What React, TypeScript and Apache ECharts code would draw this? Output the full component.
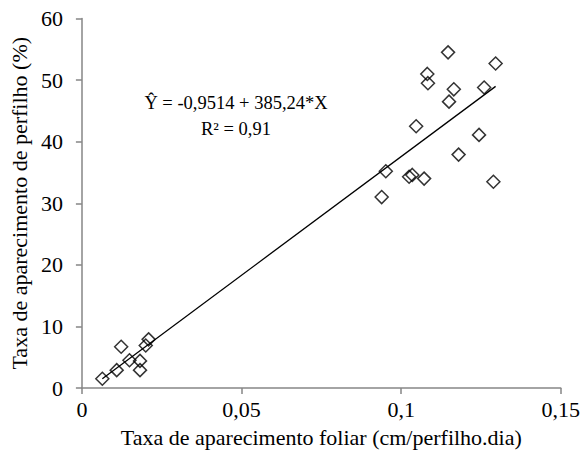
import React, { useEffect, useRef } from "react";
import * as echarts from "echarts";

const xValues = [
  0.0064, 0.0109, 0.0123, 0.0149, 0.0182, 0.0182, 0.02, 0.0209,
  0.0939, 0.0952, 0.1025, 0.1035, 0.1047, 0.1072, 0.1082, 0.1084,
  0.1147, 0.115, 0.1165, 0.118, 0.1244, 0.126, 0.1289, 0.1296,
];
const yValues = [
  1.5, 2.9, 6.7, 4.5, 2.9, 4.4, 6.9, 7.9,
  31.0, 35.2, 34.3, 34.6, 42.5, 34.0, 51.0, 49.5,
  54.5, 46.5, 48.5, 37.9, 41.1, 48.8, 33.5, 52.7,
];
const intercept = -0.9514;
const slope = 385.24;
const xTickLabels = ["0", "0,05", "0,1", "0,15"];
const yTickLabels = ["0", "10", "20", "30", "40", "50", "60"];
const equationText = "Ŷ = -0,9514 + 385,24*X";
const r2Text = "R² = 0,91";
const xTitle = "Taxa de aparecimento foliar (cm/perfilho.dia)";
const yTitle = "Taxa de aparecimento de perfilho (%)";

export default function App() {
  const ref = useRef<HTMLDivElement>(null);
  useEffect(() => {
    document.body.style.margin = "0";
    if (!ref.current) return;
    const chart = echarts.init(ref.current, null, { renderer: "svg" });
    const font = "'Liberation Serif', 'Times New Roman', serif";
    const pts = xValues.map((x, i) => [x, yValues[i]]);
    const xMin = Math.min(...xValues);
    const xMax = Math.max(...xValues);
    const linePts = [
      [xMin, intercept + slope * xMin],
      [xMax, intercept + slope * xMax],
    ];
    const axisColor = "#868686";
    chart.setOption({
      animation: false,
      backgroundColor: "#ffffff",
      grid: { left: 80, right: 20, top: 18.5, bottom: 71, containLabel: false },
      xAxis: {
        type: "value",
        min: 0,
        max: 0.15,
        interval: 0.05,
        name: xTitle,
        nameLocation: "middle",
        nameGap: 38,
        nameTextStyle: { fontFamily: font, fontSize: 22, color: "#000000" },
        axisLine: { show: true, lineStyle: { color: axisColor, width: 1.5 } },
        axisTick: { show: true, inside: false, length: 6, lineStyle: { color: axisColor, width: 1.5 } },
        splitLine: { show: false },
        axisLabel: {
          fontFamily: font,
          fontSize: 22,
          color: "#000000",
          margin: 10,
          formatter: (v: number) => xTickLabels[Math.round(v / 0.05)] ?? "",
        },
      },
      yAxis: {
        type: "value",
        min: 0,
        max: 60,
        interval: 10,
        name: yTitle,
        nameLocation: "middle",
        nameRotate: 90,
        nameGap: 46,
        nameTextStyle: { fontFamily: font, fontSize: 22, color: "#000000" },
        axisLine: { show: true, lineStyle: { color: axisColor, width: 1.5 } },
        axisTick: { show: true, inside: false, length: 6, lineStyle: { color: axisColor, width: 1.5 } },
        splitLine: { show: false },
        axisLabel: {
          fontFamily: font,
          fontSize: 22,
          color: "#000000",
          margin: 19,
          formatter: (v: number) => yTickLabels[Math.round(v / 10)] ?? "",
        },
      },
      graphic: [
        {
          type: "text",
          x: 236,
          y: 90,
          style: {
            text: equationText + "\n" + r2Text,
            fontFamily: font,
            fontSize: 18.5,
            lineHeight: 26,
            fill: "#000000",
            align: "center",
            verticalAlign: "top",
          },
        },
      ],
      series: [
        {
          type: "line",
          data: linePts,
          showSymbol: false,
          symbol: "none",
          lineStyle: { color: "#000", width: 1.3 },
          z: 2,
        },
        {
          type: "scatter",
          data: pts,
          symbol: "diamond",
          symbolSize: 13,
          itemStyle: { color: "rgba(255,255,255,0)", borderColor: "#000", borderWidth: 1.5 },
          z: 3,
        },
      ],
    });
    return () => chart.dispose();
  }, []);
  return <div ref={ref} style={{ width: 583, height: 459 }} />;
}
